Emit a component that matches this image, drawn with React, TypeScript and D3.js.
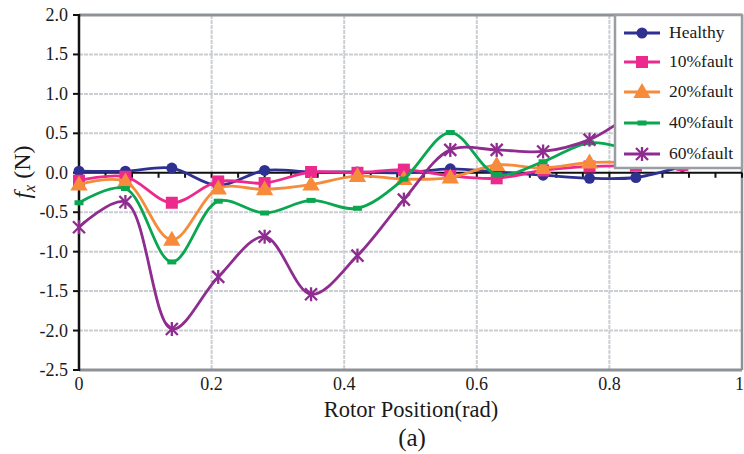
import React from "react";
import * as d3 from "d3";

// rotor positions (rad) where samples were taken
const positions = [0, 0.07, 0.14, 0.21, 0.28, 0.35, 0.42, 0.49, 0.56, 0.63, 0.7, 0.77, 0.84, 0.91];

const healthy = [0.02, 0.02, 0.06, -0.16, 0.03, 0.01, 0.01, 0.0, 0.05, 0.01, -0.03, -0.07, -0.06, 0.08];
const fault10 = [-0.1, -0.05, -0.38, -0.11, -0.13, 0.01, 0.0, 0.04, -0.04, -0.07, 0.03, 0.08, 0.09, 0.1];
const fault20 = [-0.15, -0.11, -0.85, -0.2, -0.21, -0.15, -0.04, -0.08, -0.06, 0.1, 0.06, 0.13, 0.13, 0.12];
const fault40 = [-0.38, -0.2, -1.13, -0.36, -0.51, -0.35, -0.45, -0.08, 0.51, -0.02, 0.14, 0.38, 0.28, 0.2];
const fault60 = [-0.69, -0.37, -1.98, -1.32, -0.81, -1.54, -1.05, -0.34, 0.29, 0.29, 0.27, 0.42, 0.75, 0.9];

const seriesNames = ["Healthy", "10%fault", "20%fault", "40%fault", "60%fault"];
const seriesColors = ["#2e3192", "#ec2a8e", "#f68b3c", "#0aa650", "#8e2c8f"];
const seriesMarkers = ["circle", "square", "triangle", "dash", "star"];
const seriesValues = [healthy, fault10, fault20, fault40, fault60];

const yTicks = [2.0, 1.5, 1.0, 0.5, 0.0, -0.5, -1.0, -1.5, -2.0, -2.5];
const xTicks = [0, 0.2, 0.4, 0.6, 0.8, 1];

const W = 744;
const H = 454;
const left = 79;
const right = 742;
const top = 15;
const bottom = 370;
const FONT = "Liberation Serif, serif";

const x = d3.scaleLinear().domain([0, 1]).range([left, right]);
const y = d3.scaleLinear().domain([-2.5, 2.0]).range([bottom, top]);

const line = d3
  .line<number>()
  .x((_, i) => x(positions[i]))
  .y((d) => y(d))
  .curve(d3.curveCatmullRom.alpha(0.5));

function Marker({ kind, cx, cy, color }: { kind: string; cx: number; cy: number; color: string }) {
  if (kind === "circle") return <circle cx={cx} cy={cy} r={5.5} fill={color} />;
  if (kind === "square") return <rect x={cx - 6} y={cy - 6} width={12} height={12} fill={color} />;
  if (kind === "triangle") {
    const p = d3.symbol(d3.symbolTriangle, 130)();
    return <path d={p || ""} transform={`translate(${cx},${cy + 1})`} fill={color} />;
  }
  if (kind === "dash") return <rect x={cx - 4.5} y={cy - 2.5} width={9} height={5} fill={color} />;
  // asterisk-like star: X plus vertical bar
  const s = 6;
  return (
    <g stroke={color} strokeWidth={2.3}>
      <line x1={cx - s} y1={cy - s} x2={cx + s} y2={cy + s} />
      <line x1={cx - s} y1={cy + s} x2={cx + s} y2={cy - s} />
      <line x1={cx} y1={cy - s - 1} x2={cx} y2={cy + s + 1} />
    </g>
  );
}

export default function App() {
  const zeroTicks = d3.range(0, 1.0001, 0.04);
  const legendRows = [33, 62, 92, 123, 154];

  return (
    <svg
      width={W}
      height={H}
      fontFamily={FONT}
      style={{ position: "absolute", left: 0, top: 0, background: "#fff" }}
    >
      {/* grid */}
      {yTicks
        .filter((t) => t !== 0 && t !== 2.0 && t !== -2.5)
        .map((t) => (
          <line key={"gy" + t} x1={left} x2={right} y1={y(t)} y2={y(t)} stroke="#cbced2" strokeWidth={2} strokeDasharray="4,1" />
        ))}
      {xTicks
        .filter((t) => t !== 0 && t !== 1)
        .map((t) => (
          <line key={"gx" + t} x1={x(t)} x2={x(t)} y1={top} y2={bottom} stroke="#cbced2" strokeWidth={2} strokeDasharray="4,1" />
        ))}

      {/* plot frame */}
      <line x1={left} x2={right} y1={top} y2={top} stroke="#8d9297" strokeWidth={3} />
      <line x1={right} x2={right} y1={top} y2={bottom} stroke="#8d9297" strokeWidth={2.5} />
      <line x1={left} x2={right} y1={bottom} y2={bottom} stroke="#8d9297" strokeWidth={3} />

      {/* zero line with minor ticks */}
      <line x1={left} x2={right} y1={y(0)} y2={y(0)} stroke="#111" strokeWidth={2} />
      {zeroTicks.map((t) => (
        <line key={"zt" + t} x1={x(t)} x2={x(t)} y1={y(0)} y2={y(0) + 5} stroke="#111" strokeWidth={2} />
      ))}

      {/* y axis */}
      <line x1={left} x2={left} y1={top - 1} y2={bottom + 1} stroke="#111" strokeWidth={2.5} />
      {yTicks.map((t) => (
        <g key={"yt" + t}>
          <line x1={left - 6} x2={left} y1={y(t)} y2={y(t)} stroke="#111" strokeWidth={2} />
          <text x={68} y={y(t) + 6} textAnchor="end" fontSize={18} fill="#1a1a1a">
            {t.toFixed(1)}
          </text>
        </g>
      ))}

      {/* x tick labels */}
      {xTicks.map((t) => (
        <text
          key={"xt" + t}
          x={t === 1 ? 744 : x(t)}
          y={390}
          textAnchor={t === 1 ? "end" : "middle"}
          fontSize={18}
          fill="#1a1a1a"
        >
          {String(t)}
        </text>
      ))}

      {/* series */}
      {seriesValues.map((vals, si) => (
        <g key={seriesNames[si]}>
          <path d={line(vals) || ""} fill="none" stroke={seriesColors[si]} strokeWidth={2.8} />
          {vals.map((v, i) => (
            <Marker key={i} kind={seriesMarkers[si]} cx={x(positions[i])} cy={y(v)} color={seriesColors[si]} />
          ))}
        </g>
      ))}

      {/* legend */}
      <rect x={615} y={top} width={right - 615} height={168 - top} fill="#fff" stroke="#9a9ea3" strokeWidth={2.5} />
      {seriesNames.map((name, si) => (
        <g key={"lg" + name}>
          <line x1={624} x2={660} y1={legendRows[si]} y2={legendRows[si]} stroke={seriesColors[si]} strokeWidth={2.8} />
          <Marker kind={seriesMarkers[si]} cx={642} cy={legendRows[si]} color={seriesColors[si]} />
          <text x={669} y={legendRows[si] + 5} fontSize={17.5} fill="#1a1a1a">
            {name}
          </text>
        </g>
      ))}

      {/* axis titles */}
      <text transform="translate(30,172) rotate(-90)" textAnchor="middle" fontSize={24} fill="#1a1a1a">
        <tspan fontStyle="italic">f</tspan>
        <tspan fontStyle="italic" fontSize={16} dy={5}>x</tspan>
        <tspan dy={-5}> (N)</tspan>
      </text>
      <text x={411} y={417} textAnchor="middle" fontSize={22.5} fill="#1a1a1a">
        Rotor Position(rad)
      </text>
      <text x={412} y={446} textAnchor="middle" fontSize={25} fill="#1a1a1a">
        (a)
      </text>
    </svg>
  );
}
